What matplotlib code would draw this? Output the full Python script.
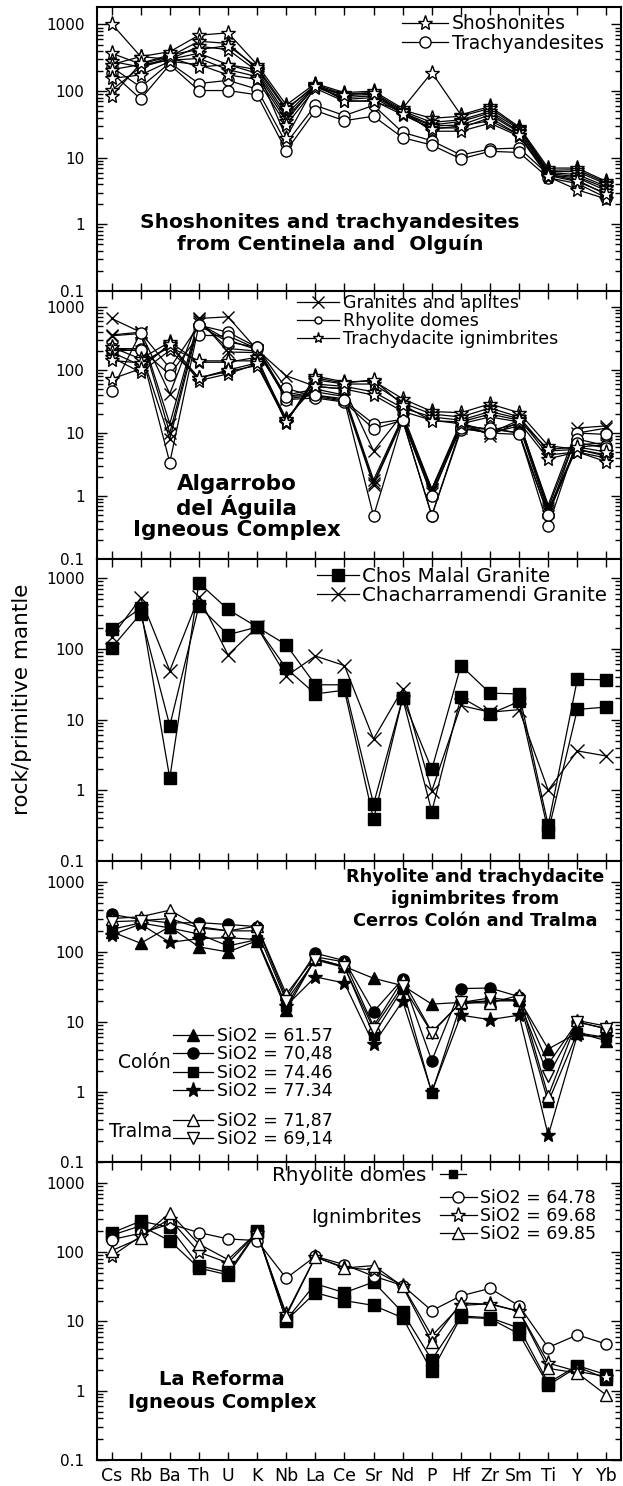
import matplotlib
matplotlib.use('Agg')
import matplotlib.pyplot as plt
from matplotlib.lines import Line2D
from matplotlib.ticker import LogLocator, NullFormatter

plt.rcParams['font.family'] = ['DejaVu Sans']

elements = ['Cs', 'Rb', 'Ba', 'Th', 'U', 'K', 'Nb', 'La', 'Ce', 'Sr',
            'Nd', 'P', 'Hf', 'Zr', 'Sm', 'Ti', 'Y', 'Yb']
x = list(range(len(elements)))

# panel 1 - Centinela and Olguin
shoshonites = [
    [1030, 330, 390, 690, 750, 250, 62, 130, 95, 100, 55, 190, 44, 59, 29, 7.0, 7.0, 4.4],
    [370, 255, 330, 560, 520, 215, 52, 125, 90, 95, 52, 39, 42, 55, 28, 6.5, 6.6, 4.2],
    [280, 230, 300, 470, 420, 200, 45, 120, 85, 90, 50, 34, 37, 50, 27, 6.2, 6.2, 4.0],
    [250, 330, 300, 370, 250, 185, 40, 115, 80, 85, 48, 31, 35, 47, 25, 6.0, 5.6, 3.7],
    [210, 250, 290, 310, 210, 165, 36, 120, 75, 80, 46, 30, 31, 44, 24, 5.8, 5.2, 3.5],
    [155, 175, 280, 250, 175, 150, 31, 110, 70, 72, 44, 28, 28, 40, 22, 5.5, 5.0, 3.2],
    [103, 230, 320, 230, 250, 210, 20, 125, 72, 70, 50, 25, 25, 33, 21, 5.2, 3.3, 2.4],
    [84, 260, 350, 420, 480, 230, 55, 118, 88, 95, 45, 27, 30, 36, 22, 5.4, 4.4, 2.9],
]
trachyandesites = [
    [230, 115, 265, 130, 145, 107, 16.5, 61, 43, 61, 24, 18, 11, 13.5, 14, 5.6, 4.6, 2.8],
    [190, 76, 250, 102, 102, 88, 12.7, 51, 36, 42, 20, 15.5, 9.6, 12.5, 12, 5.0, 4.1, 2.5],
]

# panel 2 - Algarrobo del Aguila
granites = [
    [660, 400, 42, 660, 700, 210, 81, 55, 50, 5.2, 20, 1.3, 15, 9.1, 15, 0.72, 12, 13],
    [360, 400, 14, 640, 193, 190, 40, 50, 40, 1.8, 18, 1.2, 14, 11, 14, 0.65, 10, 12],
    [350, 380, 10, 600, 220, 200, 38, 45, 38, 1.6, 17, 1.3, 13, 10, 16, 0.6, 6.5, 7],
    [220, 200, 8, 550, 300, 210, 35, 40, 35, 1.5, 16, 1.1, 12, 10, 13, 0.55, 6, 6.5],
]
rhyolite_domes = [
    [47, 394, 107, 515, 400, 230, 51, 38, 32, 14, 16.5, 1.0, 13, 11.6, 10, 0.5, 10, 9.5],
    [220, 218, 84, 357, 348, 218, 34, 36, 31, 11.6, 16, 0.49, 11, 12, 10, 0.33, 8, 6.3],
    [200, 210, 3.4, 515, 279, 230, 38, 40, 33, 0.48, 16, 0.49, 12, 10, 9.5, 0.5, 7, 5.8],
]
trachydacites = [
    [232, 150, 279, 133, 133, 160, 14.6, 80, 65, 67, 35, 22, 21, 29, 21, 6.3, 5.5, 4.3],
    [193, 118, 247, 68, 87, 125, 15, 70, 60, 60, 30, 20, 18, 25, 18, 5.2, 5.5, 4.5],
    [160, 92, 205, 75, 95, 118, 16, 60, 55, 45, 25, 18, 16, 22, 17, 4.5, 5, 4],
    [142, 130, 230, 140, 140, 140, 17, 55, 50, 40, 22, 16, 14, 18, 15, 3.9, 5, 3.5],
    [72, 105, 260, 75, 100, 130, 15, 75, 62, 70, 28, 15.7, 15, 20, 16, 5.5, 6, 5],
]

# panel 3 - Chos Malal / Chacharramendi
chos_malal = [
    [192, 376, 1.48, 858, 360, 203, 114, 31, 31, 0.64, 20, 1.97, 58, 23.6, 23, 0.32, 37, 36.5],
    [103, 313, 8.2, 402, 158, 203, 53, 23, 26, 0.39, 20, 0.5, 20.7, 12, 18, 0.26, 13.9, 15],
]
chacharramendi = [146, 520, 49, 540, 82, 203, 41, 79, 58, 5.3, 27, 0.98, 15.8, 12.7, 13.8, 1.0, 3.6, 3.05]

# panel 4 - Cerros Colon and Tralma
colon_labels = ['SiO2 = 61.57', 'SiO2 = 70,48', 'SiO2 = 74.46', 'SiO2 = 77.34']
colon = [
    [195, 133, 230, 118, 100, 145, 15, 80, 62, 42, 33, 18, 19, 20, 21, 4.1, 7, 5.4],
    [345, 290, 260, 262, 247, 230, 22, 96, 75, 14, 41, 2.8, 30, 30.5, 23, 2.5, 10, 8],
    [210, 260, 220, 180, 122, 150, 17, 80, 62, 6.5, 30, 0.97, 18, 20, 20, 0.72, 7, 6],
    [175, 250, 137, 155, 160, 150, 17, 44, 36, 4.8, 20, 1.0, 12.5, 10.8, 12.5, 0.24, 6.5, 6],
]
tralma_labels = ['SiO2 = 71,87', 'SiO2 = 69,14']
tralma = [
    [300, 318, 395, 230, 200, 234, 25, 85, 72, 8.7, 40, 7.2, 19, 18.6, 24, 0.88, 10.5, 8.7],
    [270, 280, 300, 220, 200, 200, 20, 77, 60, 8, 33, 7, 19, 22, 20, 1.7, 10, 8],
]

# panel 5 - La Reforma
reforma_domes = [
    [189, 280, 229, 64, 51, 200, 10.5, 35, 26, 37, 13.5, 2.8, 12, 11.3, 8, 1.3, 2.3, 1.7],
    [175, 240, 146, 59, 47, 195, 10.3, 26, 20, 17, 11.3, 1.9, 11.5, 11, 6.6, 1.2, 2.2, 1.5],
]
ignimbrite_labels = ['SiO2 = 64.78', 'SiO2 = 69.68', 'SiO2 = 69.85']
ignimbrites = [
    [152, 187, 255, 192, 155, 147, 42, 87, 66, 45, 33, 14.3, 23.4, 30, 16.8, 4.2, 6.4, 4.7],
    [87, 170, 300, 100, 70, 190, 12.8, 85, 60, 55, 33, 6.2, 17, 18, 14, 2.5, 1.9, 1.6],
    [105, 160, 368, 131, 78, 193, 12, 85, 59, 64, 32, 5.0, 18.5, 17.7, 14, 2.1, 1.8, 0.86],
]

W, H = 623, 1486
fig = plt.figure(figsize=(W / 100, H / 100), dpi=100)

# pixel rows of each panel (top, bottom) and top of y range
rows = [(7, 291), (291, 559), (559, 861), (861, 1162), (1162, 1460)]
ytops = [1830, 1800, 1860, 1990, 2000]
axes = []
for (top, bot), ytop in zip(rows, ytops):
    ax = fig.add_axes([97 / W, 1 - bot / H, 524 / W, (bot - top) / H])
    ax.set_yscale('log')
    ax.set_ylim(0.1, ytop)
    ax.set_xlim(-0.5, 17.5)
    ax.set_yticks([0.1, 1, 10, 100, 1000])
    ax.set_yticklabels(['0.1', '1', '10', '100', '1000'])
    ax.yaxis.set_minor_locator(LogLocator(base=10, subs=range(2, 10), numticks=20))
    ax.yaxis.set_minor_formatter(NullFormatter())
    ax.set_xticks(x)
    ax.tick_params(axis='y', which='major', direction='in', left=True, right=True,
                   length=7, width=1, labelsize=11, pad=9)
    ax.tick_params(axis='y', which='minor', direction='in', left=True, right=True,
                   length=4, width=1)
    ax.tick_params(axis='x', direction='in', top=True, bottom=True, length=6, width=1)
    for s in ax.spines.values():
        s.set_linewidth(1.5)
    axes.append(ax)

for ax in axes[:-1]:
    ax.set_xticklabels([])
axes[-1].set_xticklabels(elements, fontsize=12.5)
axes[-1].tick_params(axis='x', pad=5)

lw = 0.9
open_kw = dict(color='black', lw=lw, mfc='white', mec='black', mew=1)
fill_kw = dict(color='black', lw=lw, mfc='black', mec='black', mew=1)

# ---- panel 1
ax = axes[0]
for v in trachyandesites:
    ax.plot(x, v, marker='o', ms=8, **open_kw)
for v in shoshonites:
    ax.plot(x, v, marker='*', ms=11, **open_kw)
h1 = [Line2D([], [], marker='*', ms=11, **open_kw),
      Line2D([], [], marker='o', ms=8, **open_kw)]
ax.legend(h1, ['Shoshonites', 'Trachyandesites'], loc='upper left',
          bbox_to_anchor=(0.582, 0.975), frameon=False, borderpad=0, borderaxespad=0,
          handlelength=2.45, handletextpad=0.2, labelspacing=0.05, fontsize=13.5, numpoints=1)
ax.text(0.445, 0.2025, 'Shoshonites and trachyandesites\nfrom Centinela and  Olguín',
        transform=ax.transAxes, ha='center', va='center', fontsize=14.5,
        fontweight='bold', linespacing=1.14)

# ---- panel 2
ax = axes[1]
for v in granites:
    ax.plot(x, v, marker='x', ms=9, **open_kw)
for v in rhyolite_domes:
    ax.plot(x, v, marker='o', ms=8, **open_kw)
for v in trachydacites:
    ax.plot(x, v, marker='*', ms=11, **open_kw)
h2 = [Line2D([], [], marker='x', ms=9, **open_kw),
      Line2D([], [], marker='o', ms=5, **open_kw),
      Line2D([], [], marker='*', ms=8, **open_kw)]
ax.legend(h2, ['Granites and aplites', 'Rhyolite domes', 'Trachydacite ignimbrites'],
          loc='upper left', bbox_to_anchor=(0.382, 0.988), frameon=False, borderpad=0,
          borderaxespad=0, handlelength=2.4, handletextpad=0.23, labelspacing=0.0,
          fontsize=12.5, numpoints=1)
ax.text(0.267, 0.194, 'Algarrobo\ndel Águila\nIgneous Complex', transform=ax.transAxes,
        ha='center', va='center', fontsize=15.5, fontweight='bold', linespacing=1.07)

# ---- panel 3
ax = axes[2]
ax.plot(x, chacharramendi, marker='x', ms=10, **open_kw)
for v in chos_malal:
    ax.plot(x, v, marker='s', ms=8.5, **fill_kw)
h3 = [Line2D([], [], marker='s', ms=8.5, **fill_kw),
      Line2D([], [], marker='x', ms=10, **open_kw)]
ax.legend(h3, ['Chos Malal Granite', 'Chacharramendi Granite'], loc='upper left',
          bbox_to_anchor=(0.42, 0.975), frameon=False, borderpad=0, borderaxespad=0,
          handlelength=2.1, handletextpad=0.15, labelspacing=0.0, fontsize=14.3,
          numpoints=1)
fig.text(22 / W, 1 - 699 / H, 'rock/primitive mantle', rotation=90, ha='center',
         va='center', fontsize=15.5)

# ---- panel 4
ax = axes[3]
colon_marks = ['^', 'o', 's', '*']
colon_sizes = [8.5, 8, 7.5, 11]
tralma_marks = ['^', 'v']
for v, m, s in zip(colon, colon_marks, colon_sizes):
    ax.plot(x, v, marker=m, ms=s, **fill_kw)
for v, m in zip(tralma, tralma_marks):
    ax.plot(x, v, marker=m, ms=9, **open_kw)
h4a = [Line2D([], [], marker=m, ms=s, **fill_kw) for m, s in zip(colon_marks, colon_sizes)]
h4b = [Line2D([], [], marker=m, ms=9, **open_kw) for m in tralma_marks]
leg4 = ax.legend(h4a, colon_labels, loc='upper left', bbox_to_anchor=(0.145, 0.4485),
                 frameon=False, borderpad=0, borderaxespad=0, handlelength=2.3,
                 handletextpad=0.23, labelspacing=0.02, fontsize=12.5, numpoints=1)
ax.add_artist(leg4)
ax.legend(h4b, tralma_labels, loc='upper left', bbox_to_anchor=(0.145, 0.166),
          frameon=False, borderpad=0, borderaxespad=0, handlelength=2.3,
          handletextpad=0.23, labelspacing=0.02, fontsize=12.5, numpoints=1)
ax.text(0.141, 0.329, 'Colón', transform=ax.transAxes, ha='right', va='center', fontsize=13.5)
ax.text(0.143, 0.10, 'Tralma', transform=ax.transAxes, ha='right', va='center', fontsize=13.5)
ax.text(0.721, 0.874, 'Rhyolite and trachydacite\nignimbrites from\nCerros Colón and Tralma',
        transform=ax.transAxes, ha='center', va='center', fontsize=12.8,
        fontweight='bold', linespacing=1.26)

# ---- panel 5
ax = axes[4]
ign_marks = ['o', '*', '^']
ign_sizes = [8, 11, 9]
for v in reforma_domes:
    ax.plot(x, v, marker='s', ms=8.5, **fill_kw)
for v, m, s in zip(ignimbrites, ign_marks, ign_sizes):
    ax.plot(x, v, marker=m, ms=s, **open_kw)
leg5 = ax.legend([Line2D([], [], marker='s', ms=6, **fill_kw)], ['Rhyolite domes'],
                 loc='upper right', bbox_to_anchor=(0.704, 0.988), frameon=False,
                 borderpad=0, borderaxespad=0, handlelength=1.3, handletextpad=0.7,
                 fontsize=14.3, numpoints=1, markerfirst=False)
ax.add_artist(leg5)
h5 = [Line2D([], [], marker=m, ms=s, **open_kw) for m, s in zip(ign_marks, ign_sizes)]
ax.legend(h5, ignimbrite_labels, loc='upper left', bbox_to_anchor=(0.655, 0.91),
          frameon=False, borderpad=0, borderaxespad=0, handlelength=2.1,
          handletextpad=0.22, labelspacing=0.0, fontsize=12.5, numpoints=1)
ax.text(0.62, 0.815, 'Ignimbrites', transform=ax.transAxes, ha='right', va='center',
        fontsize=14)
ax.text(0.2385, 0.2315, 'La Reforma\nIgneous Complex', transform=ax.transAxes,
        ha='center', va='center', fontsize=14, fontweight='bold', linespacing=1.23)

fig.savefig('out.png', dpi=100)
